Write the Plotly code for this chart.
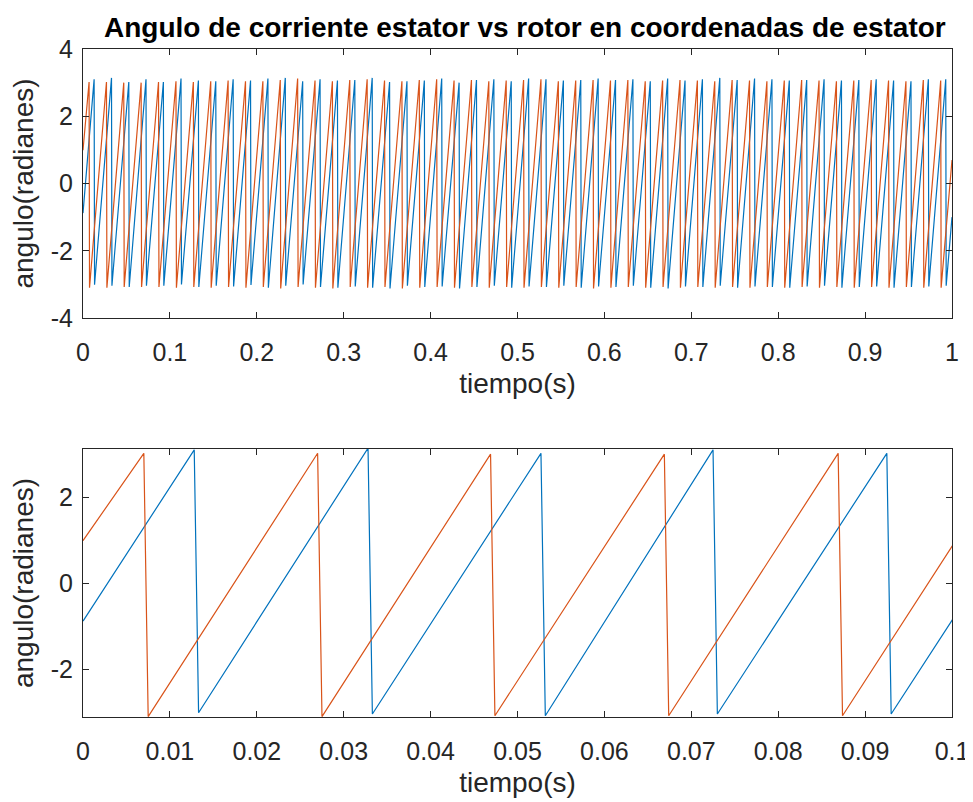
import plotly.graph_objects as go
from plotly.subplots import make_subplots

# ---------------- data ----------------
# Stator-current angle (blue) and rotor-current angle (orange), radians
# instants (s) where each sawtooth reaches its top before wrapping
t_peak_estator = [0.0128, 0.0328, 0.0527, 0.0725, 0.0925, 0.1128, 0.1328, 0.1528, 0.1728, 0.1928,
                  0.2128, 0.2328, 0.2528, 0.2728, 0.2928, 0.3128, 0.3328, 0.3528, 0.3728, 0.3928,
                  0.4128, 0.4328, 0.4528, 0.4728, 0.4928, 0.5128, 0.5328, 0.5528, 0.5728, 0.5928,
                  0.6128, 0.6328, 0.6528, 0.6728, 0.6928, 0.7128, 0.7328, 0.7528, 0.7728, 0.7928,
                  0.8128, 0.8328, 0.8528, 0.8728, 0.8928, 0.9128, 0.9328, 0.9528, 0.9728, 0.9928]
t_peak_rotor = [0.0070, 0.0270, 0.0469, 0.0669, 0.0869, 0.1070, 0.1270, 0.1470, 0.1670, 0.1870,
                0.2070, 0.2270, 0.2470, 0.2670, 0.2870, 0.3070, 0.3270, 0.3470, 0.3670, 0.3870,
                0.4070, 0.4270, 0.4470, 0.4670, 0.4870, 0.5070, 0.5270, 0.5470, 0.5670, 0.5870,
                0.6070, 0.6270, 0.6470, 0.6670, 0.6870, 0.7070, 0.7270, 0.7470, 0.7670, 0.7870,
                0.8070, 0.8270, 0.8470, 0.8670, 0.8870, 0.9070, 0.9270, 0.9470, 0.9670, 0.9870]
# peak / trough values of each cycle
peak_estator = [3.10, 3.14, 3.02, 3.10, 3.02, 3.12, 3.06, 3.04, 3.10, 3.06,
                3.12, 3.14, 3.04, 3.10, 3.06, 3.08, 3.14, 3.02, 3.04, 3.06,
                3.12, 3.00, 3.08, 3.10, 3.04, 3.12, 3.10, 3.06, 3.08, 3.12,
                3.08, 3.10, 3.04, 3.12, 3.06, 3.10, 3.14, 3.08, 3.12, 3.10,
                3.06, 3.08, 3.10, 3.06, 3.08, 3.10, 3.06, 3.04, 3.10, 3.10]
trough_estator = [-3.01, -3.04, -3.08, -3.04, -3.04, -3.00, -3.08, -3.04, -3.06, -3.02,
                  -3.10, -3.04, -3.00, -3.08, -3.10, -3.06, -3.10, -3.12, -3.04, -3.08,
                  -3.06, -3.12, -3.08, -3.04, -3.10, -3.06, -3.08, -3.04, -3.10, -3.06,
                  -3.08, -3.04, -3.10, -3.12, -3.06, -3.08, -3.04, -3.10, -3.06, -3.08,
                  -3.10, -3.06, -3.04, -3.10, -3.08, -3.06, -3.10, -3.08, -3.06, -3.04]
peak_rotor = [3.02, 3.02, 3.00, 3.00, 3.02, 3.04, 3.02, 3.04, 3.06, 3.04,
              3.04, 3.08, 3.12, 3.06, 3.04, 3.08, 3.10, 3.06, 3.04, 3.08,
              3.10, 3.06, 3.08, 3.04, 3.06, 3.08, 3.10, 3.04, 3.06, 3.08,
              3.06, 3.08, 3.04, 3.06, 3.08, 3.06, 3.04, 3.08, 3.06, 3.04,
              3.06, 3.08, 3.06, 3.04, 3.06, 3.08, 3.06, 3.04, 3.08, 3.06]
trough_rotor = [-3.10, -3.10, -3.08, -3.08, -3.08, -3.10, -3.08, -3.10, -3.08, -3.10,
                -3.08, -3.12, -3.08, -3.10, -3.12, -3.08, -3.10, -3.08, -3.12, -3.10,
                -3.08, -3.10, -3.08, -3.10, -3.08, -3.10, -3.08, -3.10, -3.08, -3.12,
                -3.10, -3.08, -3.10, -3.08, -3.10, -3.08, -3.10, -3.08, -3.10, -3.08,
                -3.10, -3.08, -3.10, -3.08, -3.10, -3.08, -3.10, -3.08, -3.10, -3.10]
start_estator, end_estator = -0.88, -1.0
start_rotor, end_rotor = 0.99, 0.70
t_start, t_end = 0.0, 1.0
wrap_step = 0.0005  # sample interval of the wrap (drop) in the simulation

xticks_top = [0, 0.1, 0.2, 0.3, 0.4, 0.5, 0.6, 0.7, 0.8, 0.9, 1]
xlabels_top = ["0", "0.1", "0.2", "0.3", "0.4", "0.5", "0.6", "0.7", "0.8", "0.9", "1"]
xticks_bot = [0, 0.01, 0.02, 0.03, 0.04, 0.05, 0.06, 0.07, 0.08, 0.09, 0.1]
xlabels_bot = ["0", "0.01", "0.02", "0.03", "0.04", "0.05", "0.06", "0.07", "0.08", "0.09", "0.1"]
yticks_top = [-4, -2, 0, 2, 4]
yticks_bot = [-2, 0, 2]

title = "Angulo de corriente estator vs rotor en coordenadas de estator"
xlabel = "tiempo(s)"
ylabel = "angulo(radianes)"


def build(tp, pk, tr, y0, y1):
    xs, ys = [t_start], [y0]
    for t, p, q in zip(tp, pk, tr):
        xs += [t, t + wrap_step]
        ys += [p, q]
    xs.append(t_end)
    ys.append(y1)
    return xs, ys


xe, ye = build(t_peak_estator, peak_estator, trough_estator, start_estator, end_estator)
xr, yr = build(t_peak_rotor, peak_rotor, trough_rotor, start_rotor, end_rotor)

BLUE = "#0072BD"
ORANGE = "#D95319"
AX = "#262626"
FONT = "Liberation Sans, Arial, sans-serif"

# the page body has an 8 px margin, so the figure is placed 8 px right/down
OFF = 8
W, H = 973 - OFF, 802 - OFF
ml, mr, mt, mb = 83 - OFF, 21, 49 - OFF, 85
ph = H - mt - mb

fig = make_subplots(rows=2, cols=1)
for row in (1, 2):
    fig.add_trace(go.Scatter(x=xe, y=ye, mode="lines", line=dict(color=BLUE, width=1.2),
                             showlegend=False), row=row, col=1)
    fig.add_trace(go.Scatter(x=xr, y=yr, mode="lines", line=dict(color=ORANGE, width=1.2),
                             showlegend=False), row=row, col=1)


def yf(px_screen):
    return (H - mb - (px_screen - OFF)) / ph


axis_common = dict(showgrid=False, zeroline=False, showline=True, linecolor=AX, linewidth=1,
                   mirror="ticks", ticks="inside", ticklen=6, tickcolor=AX, tickwidth=1,
                   automargin=False,
                   tickfont=dict(family=FONT, size=25, color=AX))
xt = dict(text=xlabel, font=dict(family=FONT, size=28, color=AX), standoff=8)
yt = dict(text=ylabel, font=dict(family=FONT, size=28, color=AX), standoff=8)

fig.update_layout(
    width=W, height=H, margin=dict(l=ml, r=mr, t=mt, b=mb),
    paper_bgcolor="white", plot_bgcolor="white",
    xaxis=dict(axis_common, domain=[0, 1], range=[0, 1], tickvals=xticks_top, ticktext=xlabels_top,
               title=xt, ticklabelstandoff=12),
    yaxis=dict(axis_common, domain=[yf(318), 1], range=[-4, 4], tickvals=yticks_top,
               ticktext=[str(v) for v in yticks_top], title=yt, ticklabelstandoff=4),
    xaxis2=dict(axis_common, domain=[0, 1], range=[0, 0.1], tickvals=xticks_bot, ticktext=xlabels_bot,
                title=xt, ticklabelstandoff=12),
    yaxis2=dict(axis_common, domain=[0, yf(449)], range=[-3.11, 3.12], tickvals=yticks_bot,
                ticktext=[str(v) for v in yticks_bot], title=yt, ticklabelstandoff=4),
)
fig.add_annotation(text="<b>" + title + "</b>", xref="paper", yref="paper", x=0.5, y=1.0,
                   xanchor="center", yanchor="bottom", yshift=4, xshift=7, showarrow=False,
                   font=dict(family=FONT, size=28, color="black"))

fig.write_html("out.html")
